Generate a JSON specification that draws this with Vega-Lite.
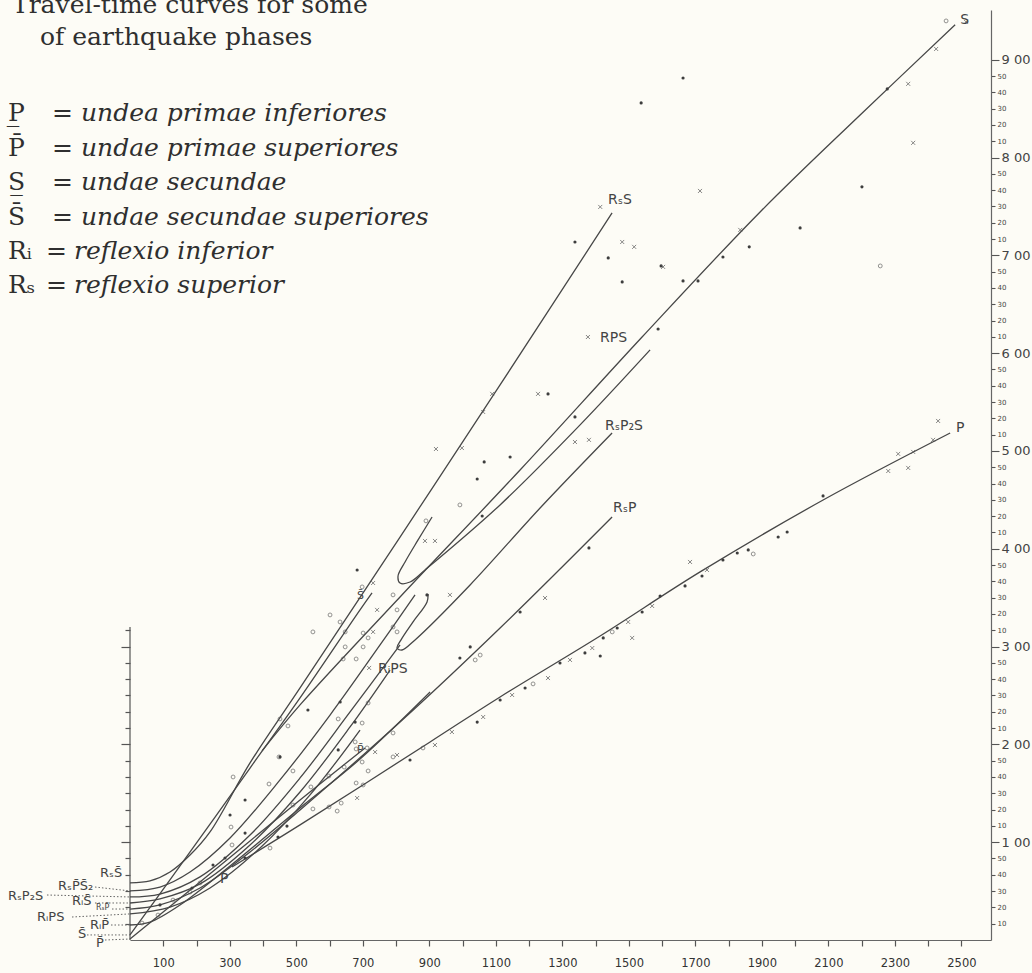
{
  "$schema": "https://vega.github.io/schema/vega-lite/v6.json",
  "width": 861,
  "height": 930,
  "autosize": "none",
  "padding": {"left": 130, "top": 10, "right": 41, "bottom": 33},
  "background": "#fdfcf6",
  "config": {"view": {"stroke": null}},
  "datasets": {
    "lines": [
      {"id":"P","o":1,"km":306.8,"s":44.8},{"id":"P","o":2,"km":511.3,"s":70.6},{"id":"P","o":3,"km":902.3,"s":121.5},{"id":"P","o":4,"km":1112.8,"s":149.1},{"id":"P","o":5,"km":1413.5,"s":186.5},{"id":"P","o":6,"km":1714.3,"s":225.8},{"id":"P","o":7,"km":2084.2,"s":269.9},{"id":"P","o":8,"km":2466.2,"s":311.0},
      {"id":"Pb","o":1,"km":0,"s":0.6},{"id":"Pb","o":2,"km":210.5,"s":35.6},{"id":"Pb","o":3,"km":511.3,"s":85.9},{"id":"Pb","o":4,"km":706.8,"s":117.8},
      {"id":"Sb","o":1,"km":0,"s":3.1},{"id":"Sb","o":2,"km":150.4,"s":45.4},{"id":"Sb","o":3,"km":360.9,"s":105.5},{"id":"Sb","o":4,"km":511.3,"s":148.5},{"id":"Sb","o":5,"km":691.7,"s":202.5},{"id":"Sb","o":6,"km":727.8,"s":212.9},
      {"id":"RiPb","o":1,"km":0,"s":9.2},{"id":"RiPb","o":2,"km":60.2,"s":11.0},{"id":"RiPb","o":3,"km":150.4,"s":21.5},{"id":"RiPb","o":4,"km":300.8,"s":45.4},{"id":"RiPb","o":5,"km":511.3,"s":81.0},{"id":"RiPb","o":6,"km":691.7,"s":111.0},{"id":"RiPb","o":7,"km":902.3,"s":152.1},
      {"id":"RsP","o":1,"km":0,"s":19.0},{"id":"RsP","o":2,"km":90.2,"s":21.5},{"id":"RsP","o":3,"km":210.5,"s":31.9},{"id":"RsP","o":4,"km":360.9,"s":54.0},{"id":"RsP","o":5,"km":511.3,"s":79.8},{"id":"RsP","o":6,"km":812.0,"s":133.7},{"id":"RsP","o":7,"km":1112.8,"s":191.4},{"id":"RsP","o":8,"km":1449.6,"s":259.5},
      {"id":"RiSb","o":1,"km":0,"s":22.7},{"id":"RiSb","o":2,"km":90.2,"s":25.2},{"id":"RiSb","o":3,"km":210.5,"s":34.4},{"id":"RiSb","o":4,"km":360.9,"s":58.3},{"id":"RiSb","o":5,"km":511.3,"s":90.8},{"id":"RiSb","o":6,"km":661.7,"s":130.7},{"id":"RiSb","o":7,"km":782.0,"s":165.6},
      {"id":"RiPS","o":1,"km":0,"s":16.0},{"id":"RiPS","o":2,"km":120.3,"s":20.2},{"id":"RiPS","o":3,"km":240.6,"s":31.9},{"id":"RiPS","o":4,"km":391.0,"s":56.4},{"id":"RiPS","o":5,"km":541.4,"s":89.0},{"id":"RiPS","o":6,"km":691.7,"s":128.8},
      {"id":"RsP2S","o":1,"km":0,"s":26.4},{"id":"RsP2S","o":2,"km":90.2,"s":28.2},{"id":"RsP2S","o":3,"km":210.5,"s":38.7},{"id":"RsP2S","o":4,"km":360.9,"s":64.4},{"id":"RsP2S","o":5,"km":511.3,"s":99.4},{"id":"RsP2S","o":6,"km":661.7,"s":139.9},{"id":"RsP2S","o":7,"km":812.0,"s":181.0},
      {"id":"RsPS2","o":1,"km":0,"s":30.1},{"id":"RsPS2","o":2,"km":90.2,"s":32.5},{"id":"RsPS2","o":3,"km":180.5,"s":41.7},{"id":"RsPS2","o":4,"km":300.8,"s":62.6},{"id":"RsPS2","o":5,"km":451.1,"s":98.2},{"id":"RsPS2","o":6,"km":601.5,"s":138.0},{"id":"RsPS2","o":7,"km":751.9,"s":181.0},{"id":"RsPS2","o":8,"km":857.1,"s":211.7},
      {"id":"RsS","o":1,"km":0,"s":35.0},{"id":"RsS","o":2,"km":60.2,"s":36.2},{"id":"RsS","o":3,"km":120.3,"s":41.7},{"id":"RsS","o":4,"km":180.5,"s":52.1},{"id":"RsS","o":5,"km":240.6,"s":66.3},{"id":"RsS","o":6,"km":360.9,"s":108.6},{"id":"RsS","o":7,"km":511.3,"s":154.6},{"id":"RsS","o":8,"km":812.0,"s":247.2},{"id":"RsS","o":9,"km":1112.8,"s":340.5},{"id":"RsS","o":10,"km":1449.6,"s":446.0},
      {"id":"S","o":1,"km":397.0,"s":116.0},{"id":"S","o":2,"km":511.3,"s":144.2},{"id":"S","o":3,"km":812.0,"s":210.4},{"id":"S","o":4,"km":1172.9,"s":288.3},{"id":"S","o":5,"km":1539.8,"s":369.9},{"id":"S","o":6,"km":1894.7,"s":446.6},{"id":"S","o":7,"km":2195.5,"s":506.1},{"id":"S","o":8,"km":2481.2,"s":561.4},
      {"id":"H1","o":1,"km":908.3,"s":259.5},{"id":"H1","o":2,"km":866.2,"s":245.4},{"id":"H1","o":3,"km":827.1,"s":231.9},{"id":"H1","o":4,"km":806.0,"s":223.3},{"id":"H1","o":5,"km":812.0,"s":219.0},{"id":"H1","o":6,"km":842.1,"s":219.6},{"id":"H1","o":7,"km":887.2,"s":227.0},{"id":"H1","o":8,"km":1112.8,"s":266.9},{"id":"H1","o":9,"km":1353.4,"s":316.0},{"id":"H1","o":10,"km":1563.9,"s":362.0},
      {"id":"H2","o":1,"km":896.2,"s":212.3},{"id":"H2","o":2,"km":893.2,"s":207.4},{"id":"H2","o":3,"km":851.1,"s":195.1},{"id":"H2","o":4,"km":815.0,"s":184.1},{"id":"H2","o":5,"km":803.0,"s":179.1},{"id":"H2","o":6,"km":818.0,"s":177.9},{"id":"H2","o":7,"km":857.1,"s":184.1},{"id":"H2","o":8,"km":1022.6,"s":217.8},{"id":"H2","o":9,"km":1233.1,"s":265.0},{"id":"H2","o":10,"km":1449.6,"s":311.0}
    ],
    "pts": [
      {"t":"d","km":2084,"s":272.4},{"t":"d","km":1949,"s":247.2},{"t":"d","km":1976,"s":250.3},{"t":"d","km":1783,"s":233.1},{"t":"d","km":1826,"s":237.4},{"t":"d","km":1859,"s":239.3},{"t":"o","km":1874,"s":236.8},
      {"t":"x","km":2280,"s":287.7},{"t":"x","km":2310,"s":298.2},{"t":"x","km":2340,"s":289.6},{"t":"x","km":2355,"s":299.4},{"t":"x","km":2415,"s":306.8},{"t":"x","km":2430,"s":318.4},
      {"t":"x","km":1414,"s":449.7},{"t":"d","km":1338,"s":428.2},{"t":"d","km":1438,"s":418.4},{"t":"x","km":1480,"s":428.2},{"t":"x","km":1516,"s":425.2},{"t":"d","km":1480,"s":403.7},{"t":"x","km":1603,"s":412.9},{"t":"d","km":1597,"s":413.5},{"t":"d","km":1663,"s":404.3},{"t":"d","km":1708,"s":404.3},{"t":"d","km":1783,"s":419.0},{"t":"d","km":1862,"s":425.2},{"t":"x","km":1714,"s":459.5},{"t":"d","km":1588,"s":374.8},{"t":"x","km":1377,"s":369.9},{"t":"x","km":1835,"s":435.6},
      {"t":"d","km":1338,"s":320.9},{"t":"x","km":1338,"s":305.5},{"t":"x","km":1380,"s":306.8},
      {"t":"o","km":2454,"s":563.8},{"t":"x","km":2514,"s":563.2},{"t":"x","km":2424,"s":546.6},{"t":"d","km":2277,"s":522.1},{"t":"x","km":2340,"s":525.2},{"t":"d","km":1663,"s":528.8},{"t":"d","km":1537,"s":513.5},{"t":"x","km":2355,"s":489.0},{"t":"d","km":2015,"s":436.8},{"t":"d","km":2201,"s":462.0},{"t":"o","km":2256,"s":413.5},
      {"t":"x","km":1227,"s":335.0},{"t":"d","km":1257,"s":335.0},{"t":"x","km":1089,"s":335.0},{"t":"x","km":1062,"s":323.9},{"t":"x","km":998,"s":301.8},{"t":"x","km":920,"s":301.2},{"t":"d","km":1143,"s":296.3},{"t":"d","km":1065,"s":293.3},{"t":"d","km":1044,"s":282.8},{"t":"d","km":1059,"s":260.1},{"t":"o","km":992,"s":266.9},{"t":"x","km":887,"s":244.8},{"t":"x","km":917,"s":244.8},{"t":"o","km":890,"s":257.1},
      {"t":"d","km":683,"s":227.0},{"t":"x","km":731,"s":219.0},{"t":"o","km":698,"s":216.6},{"t":"x","km":743,"s":202.5},{"t":"o","km":791,"s":211.7},{"t":"d","km":893,"s":211.7},{"t":"o","km":803,"s":202.5},{"t":"x","km":962,"s":211.7},{"t":"o","km":601.5,"s":199.4},{"t":"o","km":631.6,"s":195.1},{"t":"o","km":550,"s":189.0},{"t":"o","km":647,"s":189.0},{"t":"o","km":701,"s":188.3},{"t":"x","km":731,"s":189.0},{"t":"o","km":791,"s":192.0},{"t":"o","km":803,"s":189.0},{"t":"o","km":716,"s":185.3},{"t":"o","km":647,"s":179.8},{"t":"o","km":701,"s":179.8},{"t":"o","km":641,"s":172.4},{"t":"o","km":680,"s":172.4},{"t":"x","km":719,"s":166.9},
      {"t":"o","km":716,"s":145.4},{"t":"o","km":626,"s":135.6},{"t":"d","km":677,"s":133.7},{"t":"o","km":698,"s":133.1},{"t":"o","km":791,"s":127.0},{"t":"x","km":968,"s":127.6},{"t":"d","km":1044,"s":133.7},{"t":"x","km":1062,"s":136.8},{"t":"x","km":917,"s":119.6},{"t":"o","km":881,"s":117.8},{"t":"o","km":791,"s":112.3},{"t":"x","km":803,"s":113.5},{"t":"o","km":680,"s":117.2},
      {"t":"d","km":1023,"s":179.8},{"t":"d","km":992,"s":173.0},{"t":"o","km":1038,"s":171.8},{"t":"o","km":1053,"s":174.8},
      {"t":"o","km":475,"s":131.3},{"t":"o","km":451,"s":135.6},{"t":"o","km":490,"s":103.7},{"t":"o","km":448,"s":112.3},{"t":"o","km":418,"s":95.7},{"t":"o","km":310,"s":100.0},{"t":"o","km":303.8,"s":69.3},{"t":"d","km":346,"s":65.6},{"t":"o","km":490,"s":82.8},{"t":"o","km":550,"s":80.4},{"t":"o","km":598.5,"s":81.6},{"t":"o","km":623,"s":79.1},{"t":"o","km":635,"s":84.0},{"t":"o","km":644,"s":106.1},{"t":"o","km":598,"s":100.6},{"t":"o","km":544,"s":93.9},{"t":"d","km":451,"s":112.3},{"t":"d","km":626,"s":116.6},{"t":"o","km":677,"s":121.5},{"t":"o","km":713,"s":117.8},{"t":"x","km":737,"s":115.3},{"t":"o","km":698,"s":109.2},{"t":"o","km":716,"s":103.7},{"t":"o","km":680,"s":96.3},{"t":"o","km":701,"s":95.1},{"t":"x","km":683,"s":87.1},{"t":"d","km":842,"s":110.4},{"t":"d","km":472,"s":69.9},{"t":"d","km":445,"s":63.2},{"t":"o","km":421,"s":56.4},{"t":"d","km":346,"s":50.3},{"t":"o","km":306.8,"s":58.3},{"t":"d","km":300.8,"s":76.7},{"t":"d","km":346,"s":85.9},{"t":"d","km":535,"s":141.1},{"t":"d","km":632,"s":146.0},
      {"t":"o","km":129.3,"s":24.5},{"t":"o","km":84.2,"s":15.3},{"t":"o","km":36.1,"s":10.4},{"t":"o","km":180.5,"s":29.4},{"t":"d","km":186.5,"s":31.9},{"t":"d","km":249.6,"s":46.0},{"t":"d","km":90.2,"s":21.5},{"t":"o","km":210.5,"s":35.0},{"t":"d","km":285.7,"s":50.3},
      {"t":"d","km":1113,"s":147.2},{"t":"x","km":1149,"s":150.3},{"t":"d","km":1188,"s":154.6},{"t":"o","km":1212,"s":157.1},{"t":"x","km":1257,"s":160.7},{"t":"d","km":1293,"s":169.9},{"t":"x","km":1323,"s":171.8},{"t":"d","km":1368,"s":176.1},{"t":"x","km":1390,"s":179.1},{"t":"d","km":1423,"s":185.3},{"t":"o","km":1450,"s":189.0},{"t":"d","km":1465,"s":191.4},{"t":"x","km":1498,"s":195.1},{"t":"d","km":1540,"s":201.2},{"t":"x","km":1570,"s":204.9},{"t":"d","km":1594,"s":211.0},{"t":"d","km":1669,"s":217.2},{"t":"x","km":1684,"s":231.9},{"t":"d","km":1720,"s":223.3},{"t":"x","km":1735,"s":227.0},{"t":"d","km":1414,"s":174.2},{"t":"x","km":1510,"s":185.3},
      {"t":"d","km":1173,"s":201.2},{"t":"x","km":1248,"s":209.8},{"t":"d","km":1380,"s":240.5}
    ],
    "ann": [
      {"g":"title","km":-354.9,"s":568.7,"txt":"Travel-time curves for some"},
      {"g":"title","km":-270.7,"s":549.1,"txt":"of earthquake phases"},
      {"g":"sym","km":-366.9,"s":502.5,"txt":"P̲"},
      {"g":"sym","km":-366.9,"s":481.0,"txt":"P̄"},
      {"g":"sym","km":-366.9,"s":460.1,"txt":"S̲"},
      {"g":"sym","km":-366.9,"s":438.7,"txt":"S̄"},
      {"g":"sym","km":-366.9,"s":417.8,"txt":"Rᵢ"},
      {"g":"sym","km":-366.9,"s":396.9,"txt":"Rₛ"},
      {"g":"eq","km":-234.6,"s":502.5,"txt":"="},
      {"g":"eq","km":-234.6,"s":481.0,"txt":"="},
      {"g":"eq","km":-234.6,"s":460.1,"txt":"="},
      {"g":"eq","km":-234.6,"s":438.7,"txt":"="},
      {"g":"eq","km":-252.6,"s":417.8,"txt":"="},
      {"g":"eq","km":-252.6,"s":396.9,"txt":"="},
      {"g":"desc","km":-147.4,"s":502.5,"txt":"undea primae inferiores"},
      {"g":"desc","km":-147.4,"s":481.0,"txt":"undae primae superiores"},
      {"g":"desc","km":-147.4,"s":460.1,"txt":"undae secundae"},
      {"g":"desc","km":-147.4,"s":438.7,"txt":"undae secundae superiores"},
      {"g":"desc","km":-168.4,"s":417.8,"txt":"reflexio inferior"},
      {"g":"desc","km":-168.4,"s":396.9,"txt":"reflexio superior"},
      {"g":"line","km":2496.2,"s":564.4,"txt":"S"},
      {"g":"line","km":2484,"s":314.1,"txt":"P"},
      {"g":"line","km":1437.6,"s":454.0,"txt":"RₛS"},
      {"g":"line","km":1413.5,"s":369.3,"txt":"RPS"},
      {"g":"line","km":1428.6,"s":315.3,"txt":"RₛP₂S"},
      {"g":"line","km":1452.6,"s":265.0,"txt":"RₛP"},
      {"g":"line","km":745.9,"s":166.3,"txt":"RᵢPS"},
      {"g":"line","km":270.7,"s":37.4,"txt":"P"},
      {"g":"small","km":682.7,"s":116.6,"txt":"P̄"},
      {"g":"small","km":682.7,"s":211.0,"txt":"S̄"},
      {"g":"left","km":-90.2,"s":41.1,"txt":"RₛS̄"},
      {"g":"left","km":-216.5,"s":33.1,"txt":"RₛP̄S̄₂"},
      {"g":"left","km":-366.9,"s":27.0,"txt":"RₛP₂S"},
      {"g":"left","km":-174.4,"s":23.9,"txt":"RᵢS̄"},
      {"g":"left","km":-279.7,"s":14.1,"txt":"RᵢPS"},
      {"g":"left","km":-120.3,"s":9.2,"txt":"RᵢP̄"},
      {"g":"left","km":-156.4,"s":3.7,"txt":"S̄"},
      {"g":"left","km":-102.3,"s":-1.8,"txt":"P̄"},
      {"g":"tiny","km":-102.3,"s":19.6,"txt":"RₛP̄"}
    ],
    "lead": [
      {"km":-105.3,"km2":0,"s":32.5,"s2":30.1},
      {"km":-249.6,"km2":0,"s":27.6,"s2":26.4},
      {"km":-105.3,"km2":0,"s":22.7,"s2":22.7},
      {"km":-54.1,"km2":0,"s":19.0,"s2":19.0},
      {"km":-174.4,"km2":0,"s":14.1,"s2":16.0},
      {"km":-57.1,"km2":0,"s":9.2,"s2":9.2},
      {"km":-129.3,"km2":0,"s":3.1,"s2":3.1},
      {"km":-75.2,"km2":0,"s":0,"s2":0.6}
    ]
  },
  "resolve": {"axis": {"x": "independent", "y": "independent"}},
  "layer": [
    {
      "data": {"values": [{"km": 0, "s": 0, "s2": 192}]},
      "mark": {"type": "rule", "stroke": "#555", "strokeWidth": 1.2},
      "encoding": {
        "x": {"field": "km", "type": "quantitative", "scale": {"domain": [0, 2589], "nice": false, "zero": false},
          "axis": {"orient": "bottom", "title": null, "grid": false, "values": [100,200,300,400,500,600,700,800,900,1000,1100,1200,1300,1400,1500,1600,1700,1800,1900,2000,2100,2200,2300,2400,2500], "format": "d",
            "labelExpr": "datum.value % 200 === 100 ? datum.label : ''", "tickSize": 6, "tickColor": "#555", "tickWidth": 1.2, "domainColor": "#666", "domainWidth": 1.2, "labelFont": "DejaVu Sans", "labelFontSize": 11.5, "labelColor": "#333", "labelPadding": 11, "labelOverlap": false, "labelFlush": false}},
        "y": {"field": "s", "type": "quantitative", "scale": {"domain": [0, 570.5], "nice": false, "zero": false},
          "axis": {"orient": "left", "title": null, "values": [10,20,30,40,50,60,70,80,90,100,110,120,130,140,150,160,170,180,190], "labels": false, "domain": false, "grid": false, "tickColor": "#555", "tickWidth": 1.2,
            "tickSize": {"condition": {"test": "datum.value % 60 === 0", "value": 9}, "value": 5}}},
        "y2": {"field": "s2"}
      }
    },
    {
      "data": {"name": "lines"},
      "mark": {"type": "line", "stroke": "#474747", "strokeWidth": 1.3, "interpolate": "catmull-rom"},
      "encoding": {
        "x": {"field": "km", "type": "quantitative", "scale": {"domain": [0, 2589], "nice": false, "zero": false}, "axis": null},
        "y": {"field": "s", "type": "quantitative", "scale": {"domain": [0, 570.5], "nice": false, "zero": false},
          "axis": {"orient": "right", "title": null, "grid": false,
            "values": [10,20,30,40,50,60,70,80,90,100,110,120,130,140,150,160,170,180,190,200,210,220,230,240,250,260,270,280,290,300,310,320,330,340,350,360,370,380,390,400,410,420,430,440,450,460,470,480,490,500,510,520,530,540],
            "labelExpr": "datum.value % 60 === 0 ? (datum.value / 60) + ' 00' : '' + (datum.value % 60)",
            "labelFont": "DejaVu Sans", "labelColor": "#444", "labelOverlap": false, "labelFlush": false, "labelBound": false, "labelPadding": 2, "labelBaseline": "middle",
            "labelFontSize": {"condition": {"test": "datum.value % 60 === 0", "value": 13}, "value": 7},
            "tickSize": {"condition": {"test": "datum.value % 60 === 0", "value": 8}, "value": 4},
            "tickColor": "#555", "tickWidth": 1.1, "domainColor": "#666", "domainWidth": 1.2}},
        "detail": {"field": "id"},
        "order": {"field": "o", "type": "quantitative"}
      }
    },
    {
      "data": {"name": "lead"},
      "mark": {"type": "rule", "stroke": "#666", "strokeWidth": 1, "strokeDash": [1.5, 2]},
      "encoding": {
        "x": {"field": "km", "type": "quantitative", "scale": {"domain": [0, 2589], "nice": false, "zero": false}, "axis": null},
        "x2": {"field": "km2"},
        "y": {"field": "s", "type": "quantitative", "scale": {"domain": [0, 570.5], "nice": false, "zero": false}, "axis": null},
        "y2": {"field": "s2"}
      }
    },
    {
      "data": {"name": "pts"},
      "transform": [{"filter": "datum.t === 'o'"}],
      "mark": {"type": "point", "shape": "circle", "filled": false, "size": 15, "stroke": "#555", "strokeWidth": 0.9},
      "encoding": {
        "x": {"field": "km", "type": "quantitative", "scale": {"domain": [0, 2589], "nice": false, "zero": false}, "axis": null},
        "y": {"field": "s", "type": "quantitative", "scale": {"domain": [0, 570.5], "nice": false, "zero": false}, "axis": null}
      }
    },
    {
      "data": {"name": "pts"},
      "transform": [{"filter": "datum.t === 'd'"}],
      "mark": {"type": "point", "shape": "circle", "filled": true, "size": 10, "fill": "#3d3d3d", "opacity": 1},
      "encoding": {
        "x": {"field": "km", "type": "quantitative", "scale": {"domain": [0, 2589], "nice": false, "zero": false}, "axis": null},
        "y": {"field": "s", "type": "quantitative", "scale": {"domain": [0, 570.5], "nice": false, "zero": false}, "axis": null}
      }
    },
    {
      "data": {"name": "pts"},
      "transform": [{"filter": "datum.t === 'x'"}],
      "mark": {"type": "point", "shape": "M-1,-1L1,1M-1,1L1,-1", "filled": false, "size": 16, "stroke": "#555", "strokeWidth": 1},
      "encoding": {
        "x": {"field": "km", "type": "quantitative", "scale": {"domain": [0, 2589], "nice": false, "zero": false}, "axis": null},
        "y": {"field": "s", "type": "quantitative", "scale": {"domain": [0, 570.5], "nice": false, "zero": false}, "axis": null}
      }
    },
    {
      "data": {"name": "ann"},
      "transform": [{"filter": "datum.g === 'title'"}],
      "mark": {"type": "text", "align": "left", "baseline": "alphabetic", "font": "DejaVu Serif", "fontSize": 25, "fill": "#2f2f2f"},
      "encoding": {
        "x": {"field": "km", "type": "quantitative", "scale": {"domain": [0, 2589], "nice": false, "zero": false}, "axis": null},
        "y": {"field": "s", "type": "quantitative", "scale": {"domain": [0, 570.5], "nice": false, "zero": false}, "axis": null},
        "text": {"field": "txt"}
      }
    },
    {
      "data": {"name": "ann"},
      "transform": [{"filter": "datum.g === 'sym' || datum.g === 'eq'"}],
      "mark": {"type": "text", "align": "left", "baseline": "alphabetic", "font": "DejaVu Serif", "fontSize": 25, "fill": "#2f2f2f"},
      "encoding": {
        "x": {"field": "km", "type": "quantitative", "scale": {"domain": [0, 2589], "nice": false, "zero": false}, "axis": null},
        "y": {"field": "s", "type": "quantitative", "scale": {"domain": [0, 570.5], "nice": false, "zero": false}, "axis": null},
        "text": {"field": "txt"}
      }
    },
    {
      "data": {"name": "ann"},
      "transform": [{"filter": "datum.g === 'desc'"}],
      "mark": {"type": "text", "align": "left", "baseline": "alphabetic", "font": "DejaVu Serif", "fontSize": 25, "fontStyle": "italic", "fill": "#2f2f2f"},
      "encoding": {
        "x": {"field": "km", "type": "quantitative", "scale": {"domain": [0, 2589], "nice": false, "zero": false}, "axis": null},
        "y": {"field": "s", "type": "quantitative", "scale": {"domain": [0, 570.5], "nice": false, "zero": false}, "axis": null},
        "text": {"field": "txt"}
      }
    },
    {
      "data": {"name": "ann"},
      "transform": [{"filter": "datum.g === 'line'"}],
      "mark": {"type": "text", "align": "left", "baseline": "middle", "font": "DejaVu Sans", "fontSize": 14, "fill": "#444"},
      "encoding": {
        "x": {"field": "km", "type": "quantitative", "scale": {"domain": [0, 2589], "nice": false, "zero": false}, "axis": null},
        "y": {"field": "s", "type": "quantitative", "scale": {"domain": [0, 570.5], "nice": false, "zero": false}, "axis": null},
        "text": {"field": "txt"}
      }
    },
    {
      "data": {"name": "ann"},
      "transform": [{"filter": "datum.g === 'small'"}],
      "mark": {"type": "text", "align": "left", "baseline": "middle", "font": "DejaVu Sans", "fontSize": 11, "fill": "#444"},
      "encoding": {
        "x": {"field": "km", "type": "quantitative", "scale": {"domain": [0, 2589], "nice": false, "zero": false}, "axis": null},
        "y": {"field": "s", "type": "quantitative", "scale": {"domain": [0, 570.5], "nice": false, "zero": false}, "axis": null},
        "text": {"field": "txt"}
      }
    },
    {
      "data": {"name": "ann"},
      "transform": [{"filter": "datum.g === 'left'"}],
      "mark": {"type": "text", "align": "left", "baseline": "middle", "font": "DejaVu Sans", "fontSize": 13, "fill": "#444"},
      "encoding": {
        "x": {"field": "km", "type": "quantitative", "scale": {"domain": [0, 2589], "nice": false, "zero": false}, "axis": null},
        "y": {"field": "s", "type": "quantitative", "scale": {"domain": [0, 570.5], "nice": false, "zero": false}, "axis": null},
        "text": {"field": "txt"}
      }
    },
    {
      "data": {"name": "ann"},
      "transform": [{"filter": "datum.g === 'tiny'"}],
      "mark": {"type": "text", "align": "left", "baseline": "middle", "font": "DejaVu Sans", "fontSize": 8, "fill": "#444"},
      "encoding": {
        "x": {"field": "km", "type": "quantitative", "scale": {"domain": [0, 2589], "nice": false, "zero": false}, "axis": null},
        "y": {"field": "s", "type": "quantitative", "scale": {"domain": [0, 570.5], "nice": false, "zero": false}, "axis": null},
        "text": {"field": "txt"}
      }
    }
  ]
}
